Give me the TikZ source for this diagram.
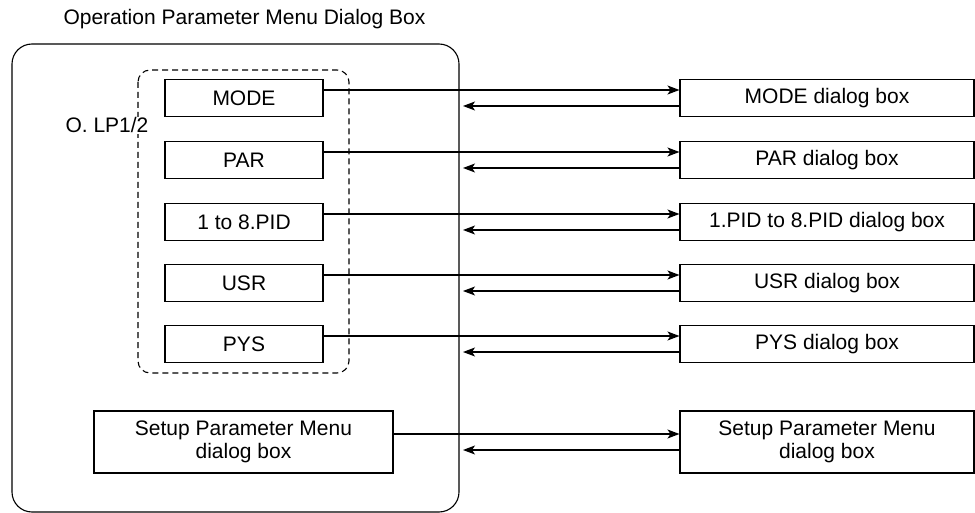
\documentclass[tikz,border=0pt]{standalone}
\usepackage{fontspec}
\setmainfont{Liberation Sans}
\usetikzlibrary{arrows.meta}

\begin{document}
\begin{tikzpicture}[
        x=1pt,
        y=-1pt,
        line width=1.1pt,
        every node/.style={font=\fontsize{21}{23}\selectfont},
        menuitem/.style={
            draw,
            minimum width=158pt,
            minimum height=37pt,
            inner sep=0pt
        },
        dlgbox/.style={
            draw,
            minimum width=294pt,
            minimum height=37pt,
            inner sep=0pt
        },
        link/.style={-{Stealth[length=12pt,width=9pt,inset=3pt]}}
    ]
        \useasboundingbox (0,0) rectangle (975,513);

        % Title above the dialog frame
        \node[anchor=base west, inner sep=0pt] (title)
            at (63,25) {Operation Parameter Menu Dialog Box};

        % Dialog frame and the O. LP1/2 group
        \draw[rounded corners=20pt] (12,44) rectangle (459,512);
        \draw[dash pattern=on 6pt off 4pt, rounded corners=12pt]
            (138,70) rectangle (349,373);
        \node[anchor=base west, inner sep=1pt, fill=white] (group)
            at (64,133) {O. LP1/2};

        % Menu items (left) and their dialog boxes (right)
        \foreach \name/\label/\y in {
            mode/MODE/98,par/PAR/160,pid/1 to 8.PID/222,
            usr/USR/283,pys/PYS/344
        }
            \node[menuitem] (\name) at (244,\y) {\label};

        \foreach \name/\label/\y in {
            mode/MODE dialog box/98,par/PAR dialog box/160,
            pid/1.PID to 8.PID dialog box/222,
            usr/USR dialog box/283,pys/PYS dialog box/344
        }
            \node[dlgbox] (\name-dlg) at (827,\y) {\label};

        \node[menuitem, minimum width=299pt, minimum height=62pt, align=center]
            (setup) at (243.5,442) {Setup Parameter Menu\\dialog box};
        \node[dlgbox, minimum height=62pt, align=center]
            (setup-dlg) at (827,442) {Setup Parameter Menu\\dialog box};

        % Call and return arrows
        \foreach \name/\y in {
            mode/98,par/160,pid/222,usr/283,pys/344,setup/442
        }{
            \coordinate (\name-ret) at (463,{\y+8});
            \draw[link] ([yshift=8pt]\name.east)
                -- ([yshift=8pt]\name-dlg.west);
            \draw[link] ([yshift=-8pt]\name-dlg.west) -- (\name-ret);
        }
    \end{tikzpicture}
\end{document}
